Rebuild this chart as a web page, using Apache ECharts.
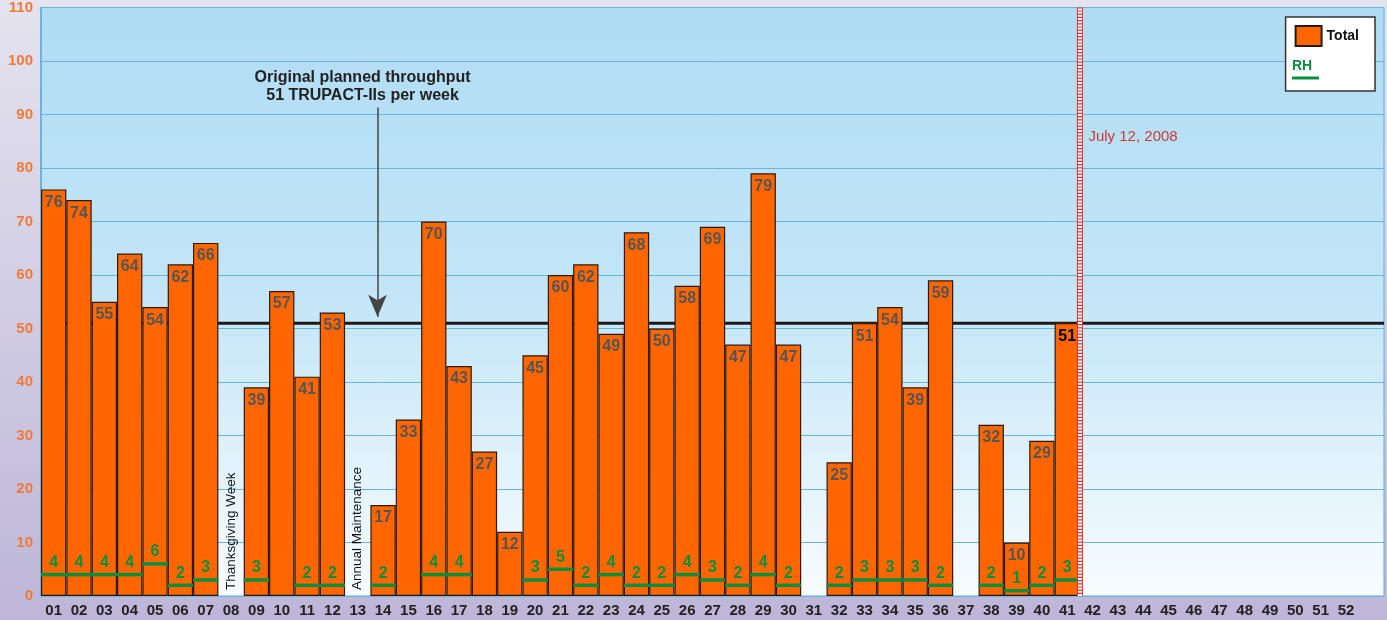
<!DOCTYPE html>
<html>
<head>
<meta charset="utf-8">
<script src="https://cdn.jsdelivr.net/npm/echarts@6/dist/echarts.min.js"></script>
<style>
  html, body { margin: 0; padding: 0; }
  #chart { width: 1387px; height: 620px; }
</style>
</head>
<body>
<div id="chart"></div>
<script>
  // weeks 01..52 plus one empty slot at the right edge
  var weeks = ['01','02','03','04','05','06','07','08','09','10','11','12','13','14','15','16','17','18','19','20',
    '21','22','23','24','25','26','27','28','29','30','31','32','33','34','35','36','37','38','39','40',
    '41','42','43','44','45','46','47','48','49','50','51','52',''];
  var totals = [76,74,55,64,54,62,66,null,39,57,41,53,null,17,33,70,43,27,12,45,
    60,62,49,68,50,58,69,47,79,47,null,25,51,54,39,59,null,32,10,29,51];
  var rh = [4,4,4,4,6,2,3,null,3,null,2,2,null,2,null,4,4,null,null,3,
    5,2,4,2,2,4,3,2,4,2,null,2,3,3,3,2,null,2,1,2,3];
  var plannedRate = 51;
  var noteWeeks = ['08','13'];
  var noteTexts = ['Thanksgiving Week','Annual Maintenance'];
  var cutoffWeek = 41;
  var cutoffLabel = 'July 12, 2008';
  var plannedText = 'Original planned throughput\n51 TRUPACT-IIs per week';

  var FONT = '"Liberation Sans", Arial, sans-serif';
  var GREEN = '#0b8f3f';

  var chart = echarts.init(document.getElementById('chart'));

  var barData = totals.map(function (v, i) {
    if (v == null) return null;
    if (weeks[i] === String(cutoffWeek)) return { value: v, label: { color: '#000' } };
    return v;
  });
  var rhData = [];
  rh.forEach(function (v, i) { if (v != null) rhData.push([i, v]); });
  var noteData = noteWeeks.map(function (w) { return [weeks.indexOf(w), 0]; });

  var option = {
    animation: false,
    backgroundColor: new echarts.graphic.LinearGradient(0, 0, 0, 1, [
      { offset: 0, color: '#e5e3ef' },
      { offset: 1, color: '#bdb6d8' }
    ]),
    textStyle: { fontFamily: FONT },
    grid: {
      left: 41, right: 3, top: 7, bottom: 24,
      show: true,
      backgroundColor: new echarts.graphic.LinearGradient(0, 0, 0, 1, [
        { offset: 0, color: '#afdcf4' },
        { offset: 0.5, color: '#c4e6f7' },
        { offset: 1, color: '#f8fcff' }
      ]),
      borderColor: '#5aaee0',
      borderWidth: 1
    },
    legend: [
      {
        data: [{ name: 'Total', icon: 'rect' }],
        right: 12, top: 17,
        orient: 'vertical',
        itemWidth: 26, itemHeight: 20,
        backgroundColor: '#fff',
        borderColor: '#333', borderWidth: 1.5, borderRadius: 0,
        padding: [8, 16, 44, 9],
        textStyle: { fontWeight: 'bold', fontSize: 14, color: '#111', fontFamily: FONT }
      },
      {
        data: [{ name: 'RH', icon: 'none' }],
        left: 1287, top: 59,
        itemWidth: 0, itemHeight: 10,
        padding: 0,
        formatter: '{t|RH}\n{u|}',
        textStyle: {
          fontFamily: FONT,
          rich: {
            t: { color: GREEN, fontWeight: 'bold', fontSize: 14, lineHeight: 18, fontFamily: FONT },
            u: { backgroundColor: GREEN, width: 27, height: 3, lineHeight: 6 }
          }
        }
      }
    ],
    xAxis: [
      {
        type: 'category',
        data: weeks,
        axisLine: { show: false },
        axisTick: { show: false },
        axisLabel: { color: '#222', fontWeight: 'bold', fontSize: 15, margin: 7, interval: 0, fontFamily: FONT }
      },
      { type: 'value', min: 0, max: weeks.length, show: false }
    ],
    yAxis: {
      type: 'value',
      min: 0, max: 110, interval: 10,
      axisLine: { show: true, lineStyle: { color: '#5aaee0', width: 1.5 } },
      axisTick: { show: false },
      splitLine: { lineStyle: { color: '#6ab4e0', width: 1 } },
      axisLabel: { color: '#f07a3a', fontWeight: 'bold', fontSize: 15, margin: 8, fontFamily: FONT }
    },
    series: [
      {
        name: 'planned',
        type: 'line',
        xAxisIndex: 1,
        z: 1,
        silent: true,
        symbol: 'none',
        data: [[0, plannedRate], [weeks.length, plannedRate]],
        lineStyle: { color: '#1a1a1a', width: 3 },
        markLine: {
          silent: true,
          symbol: ['none', 'arrow'],
          symbolSize: [14, 22],
          label: { show: false },
          lineStyle: { color: '#444', width: 1.5, type: 'solid' },
          data: [[{ coord: [13.28, 91.3] }, { coord: [13.28, 52.2] }]]
        },
        markPoint: {
          silent: true,
          symbol: 'circle', symbolSize: 1,
          itemStyle: { color: 'rgba(0,0,0,0)' },
          label: {
            show: true, position: 'inside',
            formatter: plannedText,
            color: '#222', fontWeight: 'bold', fontSize: 16, lineHeight: 18,
            align: 'center', fontFamily: FONT
          },
          data: [{ coord: [12.69, 95.2] }]
        }
      },
      {
        name: 'Total',
        type: 'bar',
        z: 2,
        barCategoryGap: '0%',
        data: barData,
        itemStyle: { color: '#ff6600', borderColor: '#2a1a10', borderWidth: 1.2 },
        label: {
          show: true, position: 'insideTop', distance: 5,
          color: '#555', fontWeight: 'bold', fontSize: 16, fontFamily: FONT
        }
      },
      {
        name: 'RH',
        type: 'custom',
        z: 3,
        data: rhData,
        itemStyle: { color: GREEN },
        renderItem: function (params, api) {
          var v = api.value(1);
          var p = api.coord([api.value(0), v]);
          var w = api.size([1, 0])[0];
          return {
            type: 'group',
            children: [
              { type: 'rect', shape: { x: p[0] - w / 2, y: p[1] - 1.75, width: w, height: 3.5 }, style: { fill: GREEN } },
              { type: 'text', x: p[0], y: p[1] - 12,
                style: { text: String(v), fill: GREEN, font: 'bold 16px ' + FONT, align: 'center', verticalAlign: 'middle' } }
            ]
          };
        }
      },
      {
        name: 'notes',
        type: 'custom',
        z: 3,
        silent: true,
        data: noteData,
        renderItem: function (params, api) {
          var p = api.coord([api.value(0), api.value(1)]);
          return {
            type: 'text',
            x: p[0], y: p[1] - 6,
            rotation: Math.PI / 2,
            style: { text: noteTexts[params.dataIndex], fill: '#111', font: '13.5px ' + FONT, align: 'left', verticalAlign: 'middle' }
          };
        }
      },
      {
        name: 'cutoff',
        type: 'line',
        xAxisIndex: 1,
        z: 5,
        silent: true,
        symbol: 'none',
        data: [[cutoffWeek, 0], [cutoffWeek, 110]],
        lineStyle: { color: '#e03030', width: 6 },
        markPoint: {
          silent: true,
          symbol: 'circle', symbolSize: 1,
          itemStyle: { color: 'rgba(0,0,0,0)' },
          label: {
            show: true, position: 'right', distance: 8,
            formatter: cutoffLabel,
            color: '#d03838', fontSize: 15, fontFamily: FONT
          },
          data: [{ coord: [cutoffWeek, 85.9] }]
        }
      },
      {
        name: 'cutoffInner',
        type: 'line',
        xAxisIndex: 1,
        z: 6,
        silent: true,
        symbol: 'none',
        data: [[cutoffWeek, 0], [cutoffWeek, 110]],
        lineStyle: { color: '#ffffff', width: 4, type: [2, 1.2] }
      }
    ]
  };
  chart.setOption(option);
</script>
</body>
</html>
